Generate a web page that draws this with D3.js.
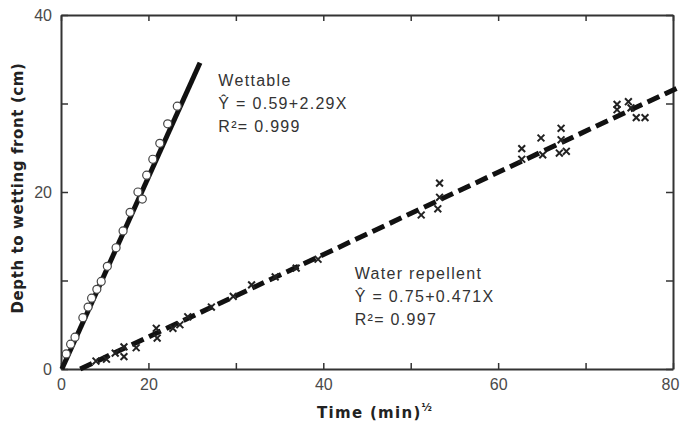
<!DOCTYPE html>
<html>
<head>
<meta charset="utf-8">
<script src="https://cdn.jsdelivr.net/npm/d3@7"></script>
<style>
    body { margin: 0; background: #fff; }
    text { font-family: "Liberation Sans", Arial, sans-serif; }
</style>
</head>
<body>
<div id="chart"></div>
<script>
    // wettable soil, open circles
    var wettableX = [0.6, 1.1, 1.6, 2.5, 3.1, 3.5, 4.1, 4.6, 5.3, 6.3, 7.1, 7.9, 8.8, 9.3, 9.8, 10.5, 11.3, 12.2, 13.3];
    var wettableY = [1.7, 2.8, 3.6, 5.8, 7.0, 8.0, 9.0, 9.9, 11.6, 13.7, 15.6, 17.7, 20.0, 19.2, 21.9, 23.7, 25.5, 27.7, 29.7];

    // water repellent soil, crosses
    var repellentX = [4.0, 5.2, 6.2, 7.2, 7.2, 8.6, 10.9, 11.0, 12.8, 13.6, 14.5, 17.2, 19.7, 21.8, 24.5, 26.9, 29.4,
                      41.2, 43.1, 43.3, 43.3, 52.7, 52.7, 54.9, 55.1, 57.0, 57.2, 57.2, 57.8, 63.6, 63.6, 64.9, 65.2, 65.8, 66.8];
    var repellentY = [0.9, 1.1, 1.8, 2.5, 1.4, 2.4, 4.6, 3.5, 4.6, 5.0, 5.9, 7.0, 8.2, 9.5, 10.4, 11.4, 12.4,
                      17.4, 18.1, 19.4, 21.0, 23.7, 24.9, 26.1, 24.2, 24.4, 25.9, 27.2, 24.6, 29.3, 29.9, 30.2, 29.5, 28.4, 28.4];

    // fitted lines as drawn (end points)
    var wettableFitX = [0.1, 15.9], wettableFitY = [0, 34.6];
    var repellentFitX = [2.2, 70.6], repellentFitY = [0, 31.8];

    var xTicks = [0, 10, 20, 30, 40, 50, 60, 70];
    var xTickLabels = ["0", "20", "", "40", "", "60", "", "80"];
    var yTicks = [0, 10, 20, 30, 40];
    var yTickLabels = ["0", "", "20", "", "40"];

    var wettableText = ["Wettable", "Ŷ = 0.59+2.29X", "R²= 0.999"];
    var repellentText = ["Water repellent", "Ŷ = 0.75+0.471X", "R²= 0.997"];

    var width = 681, height = 424,
        margin = { left: 61, right: 8, top: 15, bottom: 55 },
        ink = '#222', axisInk = '#333', labelInk = '#4a4a4a';

    var svg = d3.select('#chart').append('svg')
        .attr('width', width)
        .attr('height', height);

    var x = d3.scaleLinear().domain([0, 70]).range([margin.left, width - margin.right]);
    var y = d3.scaleLinear().domain([0, 40]).range([height - margin.bottom, margin.top]);

    // frame with inward ticks
    svg.append('g')
        .attr('transform', 'translate(0,' + y(0) + ')')
        .call(d3.axisBottom(x).tickValues(xTicks).tickSizeInner(-6).tickSizeOuter(0)
            .tickPadding(10).tickFormat(function (d, i) { return xTickLabels[i]; }))
        .call(styleAxis)
        .call(function (g) {
            // keep the last label inside the page
            g.selectAll('.tick text').filter(function (d) { return d === 70; }).attr('dx', -3);
        });

    svg.append('g')
        .attr('transform', 'translate(0,' + y(40) + ')')
        .call(d3.axisTop(x).tickValues(xTicks).tickSizeInner(-6).tickSizeOuter(0).tickFormat(''))
        .call(styleAxis);

    svg.append('g')
        .attr('transform', 'translate(' + x(0) + ',0)')
        .call(d3.axisLeft(y).tickValues(yTicks).tickSizeInner(-7).tickSizeOuter(0)
            .tickPadding(9).tickFormat(function (d, i) { return yTickLabels[i]; }))
        .call(styleAxis);

    svg.append('g')
        .attr('transform', 'translate(' + x(70) + ',0)')
        .call(d3.axisRight(y).tickValues(yTicks).tickSizeInner(-7).tickSizeOuter(0).tickFormat(''))
        .call(styleAxis);

    function styleAxis(g) {
        g.select('.domain').attr('stroke', axisInk).attr('stroke-width', 2);
        g.selectAll('.tick line').attr('stroke', axisInk).attr('stroke-width', 1.5);
        g.selectAll('.tick text')
            .attr('fill', labelInk)
            .style('font-size', '16px')
            .style('font-family', '"Liberation Sans", Arial, sans-serif');
    }

    // fitted lines
    var line = d3.line()
        .x(function (d) { return x(d[0]); })
        .y(function (d) { return y(d[1]); });

    svg.append('path')
        .datum(d3.zip(wettableFitX, wettableFitY))
        .attr('d', line)
        .attr('fill', 'none')
        .attr('stroke', '#111')
        .attr('stroke-width', 5);

    svg.append('path')
        .datum(d3.zip(repellentFitX, repellentFitY))
        .attr('d', line)
        .attr('fill', 'none')
        .attr('stroke', '#111')
        .attr('stroke-width', 5)
        .attr('stroke-dasharray', '13,6');

    // points
    svg.append('g').selectAll('circle')
        .data(d3.zip(wettableX, wettableY))
        .enter().append('circle')
        .attr('cx', function (d) { return x(d[0]); })
        .attr('cy', function (d) { return y(d[1]); })
        .attr('r', 4)
        .attr('fill', '#fff')
        .attr('stroke', '#444')
        .attr('stroke-width', 1.2);

    svg.append('g').selectAll('path')
        .data(d3.zip(repellentX, repellentY))
        .enter().append('path')
        .attr('transform', function (d) { return 'translate(' + x(d[0]) + ',' + y(d[1]) + ')'; })
        .attr('d', 'M-3.4,-3.4L3.4,3.4M-3.4,3.4L3.4,-3.4')
        .attr('stroke', ink)
        .attr('stroke-width', 2);

    // annotations
    function note(lines, left, top) {
        svg.append('g').selectAll('text')
            .data(lines)
            .enter().append('text')
            .attr('x', left)
            .attr('y', function (d, i) { return top + i * 23; })
            .attr('fill', '#333')
            .style('font-size', '16px')
            .style('letter-spacing', '1.3px')
            .text(function (d) { return d; });
    }
    note(wettableText, x(18), 86);
    note(repellentText, x(33.6), 279);

    // axis titles
    var xTitle = svg.append('text')
        .attr('x', 317)
        .attr('y', 418)
        .attr('fill', '#222')
        .style('font-family', '"DejaVu Sans", sans-serif')
        .style('font-weight', 'bold')
        .style('font-size', '15px')
        .style('letter-spacing', '1.3px');
    xTitle.append('tspan').text('Time (min)');
    xTitle.append('tspan').attr('dy', -7).style('font-size', '10px').text('½');

    svg.append('text')
        .attr('transform', 'translate(23,188) rotate(-90)')
        .attr('text-anchor', 'middle')
        .attr('fill', '#222')
        .style('font-family', '"DejaVu Sans", sans-serif')
        .style('font-weight', 'bold')
        .style('font-size', '15px')
        .style('letter-spacing', '0.6px')
        .text('Depth to wetting front (cm)');
</script>
</body>
</html>
